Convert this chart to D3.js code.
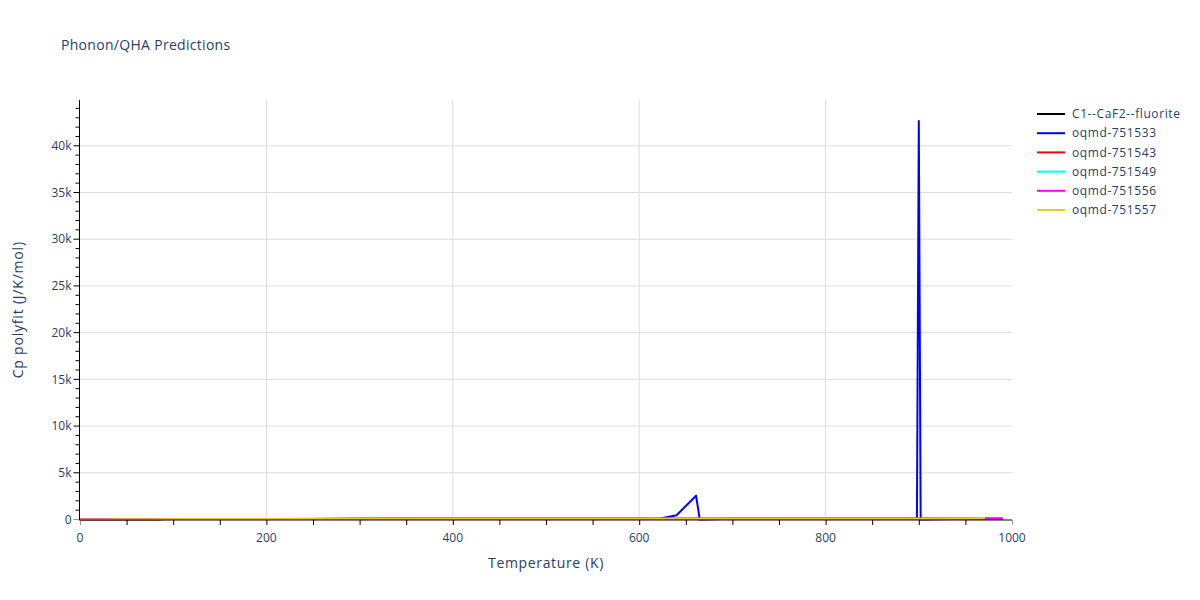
<!DOCTYPE html>
<html>
<head>
<meta charset="utf-8">
<script src="https://cdn.jsdelivr.net/npm/d3@7"></script>
<style>
  body { margin: 0; background: #fff; }
  text { font-family: "Open Sans", verdana, arial, sans-serif; fill: #2a3f5f; }
</style>
</head>
<body>
<svg id="chart" width="1200" height="600"></svg>
<script>
// ---- Data ----
const seriesNames = ["C1--CaF2--fluorite", "oqmd-751533", "oqmd-751543", "oqmd-751549", "oqmd-751556", "oqmd-751557"];
const seriesColors = ["#000000", "#0000ff", "#ff0000", "#00ffff", "#ff00ff", "#f1c232"];

const tempsSmooth = [0,10,20,30,40,50,60,70,80,90,100,120,140,160,180,200,250,300,350,400,450,500,550,600,650,700,750,800,850,900,950,990];
const cpCaF2   = [0,0.3,2.5,7.8,14.5,21.6,28.3,34.2,39.2,43.4,46.9,52.3,56.1,58.9,61.0,62.6,65.3,66.9,67.9,68.6,69.2,69.6,70.0,70.3,70.6,70.9,71.1,71.3,71.5,71.7,71.9,72.0];
const cp751543 = [0,0.4,2.9,8.4,15.3,22.4,29.0,34.8,39.7,43.8,47.2,52.5,56.3,59.0,61.1,62.7,65.4,67.0,68.0,68.8,69.4,69.9,70.4,70.9,71.5,72.2,73.0,74.1,75.5,77.5,80.0,82.5];
const cp751549 = [0,0.3,2.7,8.1,14.9,22.0,28.6,34.5,39.4,43.6,47.0,52.4,56.2,59.0,61.0,62.6,65.3,66.9,67.9,68.7,69.3,69.8,70.2,70.6,71.0,71.5,72.0,72.6,73.3,74.1,75.0,76.0];
const cp751556 = [0,0.5,3.1,8.8,15.8,22.9,29.4,35.1,40.0,44.0,47.4,52.7,56.4,59.1,61.2,62.8,65.5,67.1,68.2,69.0,69.7,70.3,70.9,71.6,72.4,73.4,74.7,76.4,78.8,82.0,88.0,95.0];

const temps751533 = [0,10,20,30,40,60,80,100,150,200,300,400,500,600,620,640,661,665,700,800,898,900,902,950,990];
const cp751533    = [0,0.4,3.0,8.5,15.4,29.2,39.9,47.5,56.8,63.0,67.3,69.0,70.2,72.0,60,450,2550,0,70.0,71.0,72.0,42650,0,74.0,75.0];

const temps751557 = [0,10,20,30,40,50,60,70,80,90,100,120,140,160,180,200,250,300,350,400,450,500,550,600,650,700,750,800,850,900,920,940,960,971];
const cp751557    = [0,0.4,2.8,8.2,15.1,22.2,28.8,34.6,39.5,43.7,47.1,52.4,56.2,59.0,61.1,62.7,65.4,67.0,68.1,68.9,69.6,70.2,70.8,71.4,72.1,72.9,73.9,75.2,77.0,80.0,85.0,100.0,130.0,165.0];

const xTickLabels = [0, 200, 400, 600, 800, 1000];
const yTickLabels = [0, 5000, 10000, 15000, 20000, 25000, 30000, 35000, 40000];

const series = [
  {name: seriesNames[0], color: seriesColors[0], t: tempsSmooth, v: cpCaF2},
  {name: seriesNames[1], color: seriesColors[1], t: temps751533, v: cp751533},
  {name: seriesNames[2], color: seriesColors[2], t: tempsSmooth, v: cp751543},
  {name: seriesNames[3], color: seriesColors[3], t: tempsSmooth, v: cp751549},
  {name: seriesNames[4], color: seriesColors[4], t: tempsSmooth, v: cp751556},
  {name: seriesNames[5], color: seriesColors[5], t: temps751557, v: cp751557},
];

// ---- Layout ----
const svg = d3.select("#chart");
const L = 80, R = 1012, T = 100, B = 519.5;
const x = d3.scaleLinear().domain([0, 1000]).range([L, R]);
const y = d3.scaleLinear().domain([0, 44900]).range([B, T]);

// grid
const grid = svg.append("g");
grid.selectAll(".vg").data(xTickLabels.filter(d => d > 0 && d < 1000)).enter().append("line")
  .attr("x1", d => x(d)).attr("x2", d => x(d)).attr("y1", T).attr("y2", B)
  .attr("stroke", "#dcdcdc").attr("stroke-width", 1);
grid.selectAll(".hg").data(yTickLabels.filter(d => d > 0)).enter().append("line")
  .attr("x1", L).attr("x2", R).attr("y1", d => y(d)).attr("y2", d => y(d))
  .attr("stroke", "#dcdcdc").attr("stroke-width", 1);

// clip
svg.append("clipPath").attr("id", "clip").append("rect")
  .attr("x", L).attr("y", T - 2).attr("width", R - L).attr("height", B - T + 4);

const line = d3.line().x(d => x(d[0])).y(d => y(d[1]));
const lines = svg.append("g").attr("clip-path", "url(#clip)");
series.forEach(s => {
  lines.append("path")
    .datum(s.t.map((t, i) => [t, s.v[i]]))
    .attr("d", line)
    .attr("fill", "none")
    .attr("stroke", s.color)
    .attr("stroke-width", 2)
    .attr("stroke-linejoin", "round");
});

// x axis
const xMinor = d3.range(0, 1001, 50);
const xAxisG = svg.append("g").attr("transform", `translate(0,${B + 0.5})`);
xAxisG.call(d3.axisBottom(x).tickValues(xMinor).tickSize(5).tickFormat(""));
xAxisG.select(".domain").remove();
xAxisG.selectAll(".tick line").attr("stroke", d => (d === 0 || d === 1000) ? "#999" : "#000");
xAxisG.append("line").attr("x1", L).attr("x2", R).attr("stroke", "#000").attr("stroke-width", 1);
xAxisG.selectAll(".lbl").data(xTickLabels).enter().append("text")
  .attr("x", d => x(d)).attr("y", 22).attr("text-anchor", "middle")
  .attr("font-size", 12).text(d => d);

// y axis
const yMinor = d3.range(0, 44001, 1000);
const yAxisG = svg.append("g").attr("transform", `translate(${L - 0.5},0)`);
yAxisG.selectAll(".mt").data(yMinor).enter().append("line")
  .attr("x1", d => (d % 5000 === 0) ? -6 : -4).attr("x2", 0)
  .attr("y1", d => y(d)).attr("y2", d => y(d))
  .attr("stroke", d => d === 0 ? "#999" : "#000").attr("stroke-width", 1);
yAxisG.append("line").attr("x1", 0).attr("x2", 0).attr("y1", T).attr("y2", B + 1)
  .attr("stroke", "#000").attr("stroke-width", 1);
const kfmt = d => d === 0 ? "0" : (d / 1000) + "k";
yAxisG.selectAll(".lbl").data(yTickLabels).enter().append("text")
  .attr("x", -8).attr("y", d => y(d)).attr("dy", "0.35em").attr("text-anchor", "end")
  .attr("font-size", 12).text(kfmt);

// titles
svg.append("text").attr("x", 61).attr("y", 50).attr("font-size", 14)
  .attr("letter-spacing", "0.3px").text("Phonon/QHA Predictions");
svg.append("text").attr("x", (L + R) / 2).attr("y", 568).attr("text-anchor", "middle")
  .attr("font-size", 14).attr("letter-spacing", "0.65px").text("Temperature (K)");
svg.append("text").attr("transform", `translate(23,${(T + B) / 2}) rotate(-90)`)
  .attr("text-anchor", "middle").attr("font-size", 14).attr("letter-spacing", "0.8px")
  .text("Cp polyfit (J/K/mol)");

// legend
const leg = svg.append("g").attr("transform", "translate(1037,114)");
series.forEach((s, i) => {
  const g = leg.append("g").attr("transform", `translate(0,${i * 19.2})`);
  g.append("line").attr("x1", 0).attr("x2", 28).attr("y1", 0).attr("y2", 0)
    .attr("stroke", s.color).attr("stroke-width", 2);
  g.append("text").attr("x", 35).attr("y", 0).attr("dy", "0.35em").attr("font-size", 12)
    .attr("letter-spacing", "0.6px").text(s.name);
});
</script>
</body>
</html>
